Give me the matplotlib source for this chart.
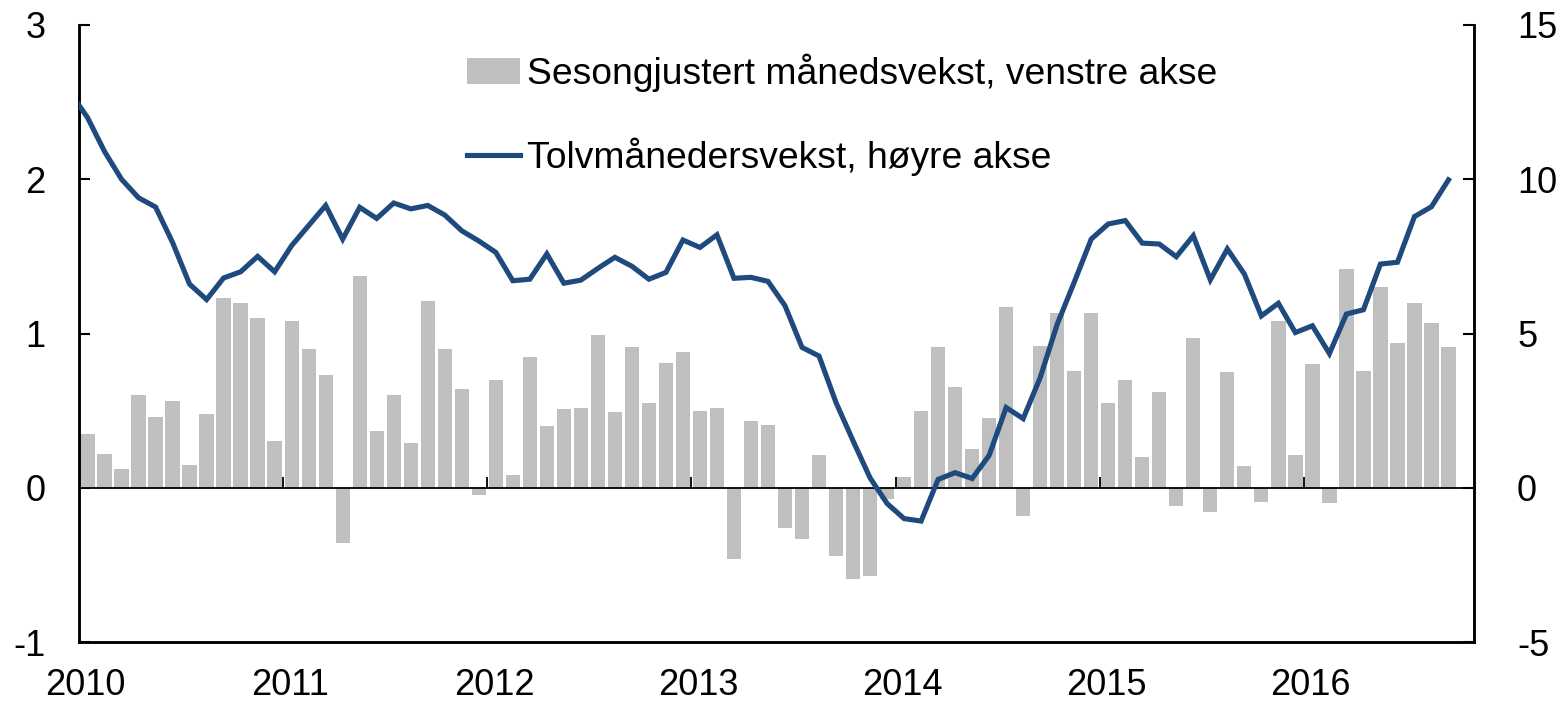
import numpy as np
import matplotlib
matplotlib.use("Agg")
import matplotlib.pyplot as plt

plt.rcParams['font.family'] = ['Liberation Sans', 'DejaVu Sans']
plt.rcParams['axes.unicode_minus'] = False

# Sesongjustert månedsvekst (venstre akse), jan 2010 - sep 2016
maanedsvekst = [
    0.35, 0.22, 0.12, 0.60, 0.46, 0.56, 0.15, 0.48, 1.23, 1.20, 1.10, 0.30,   # 2010
    1.08, 0.90, 0.73, -0.36, 1.37, 0.37, 0.60, 0.29, 1.21, 0.90, 0.64, -0.05,  # 2011
    0.70, 0.08, 0.85, 0.40, 0.51, 0.52, 0.99, 0.49, 0.91, 0.55, 0.81, 0.88,   # 2012
    0.50, 0.52, -0.46, 0.43, 0.41, -0.26, -0.33, 0.21, -0.44, -0.59, -0.57, -0.07,  # 2013
    0.07, 0.50, 0.91, 0.65, 0.25, 0.45, 1.17, -0.18, 0.92, 1.13, 0.76, 1.13,  # 2014
    0.55, 0.70, 0.20, 0.62, -0.12, 0.97, -0.16, 0.75, 0.14, -0.09, 1.08, 0.21,  # 2015
    0.80, -0.10, 1.42, 0.76, 1.30, 0.94, 1.20, 1.07, 0.91,                    # 2016
]

# Tolvmånedersvekst (høyre akse), des 2009 - sep 2016
tolvmnd = [
    12.8,                                                                      # des 2009
    12.0, 10.9, 10.0, 9.4, 9.1, 7.95, 6.6, 6.1, 6.8, 7.0, 7.5, 7.0,            # 2010
    7.85, 8.5, 9.15, 8.06, 9.09, 8.73, 9.23, 9.04, 9.15, 8.84, 8.33, 8.0,      # 2011
    7.63, 6.71, 6.76, 7.58, 6.63, 6.73, 7.11, 7.47, 7.18, 6.76, 6.98, 8.03,    # 2012
    7.79, 8.2, 6.79, 6.82, 6.69, 5.9, 4.55, 4.27, 2.76, 1.52, 0.32, -0.51,     # 2013
    -1.0, -1.08, 0.27, 0.49, 0.30, 1.05, 2.6, 2.24, 3.57, 5.3, 6.66, 8.06,     # 2014
    8.55, 8.66, 7.93, 7.9, 7.49, 8.17, 6.74, 7.74, 6.93, 5.57, 5.98, 5.03,     # 2015
    5.25, 4.35, 5.63, 5.77, 7.25, 7.31, 8.79, 9.11, 9.98,                      # 2016
]

aar = ['2010', '2011', '2012', '2013', '2014', '2015', '2016']

x_bar = np.arange(len(maanedsvekst)) + 0.5
x_linje = np.arange(len(tolvmnd)) - 0.5
aar_start = np.arange(len(aar)) * 12

fig = plt.figure(figsize=(15.59, 7.04), dpi=100)
ax = fig.add_axes([79 / 1559, 1 - 642 / 704, (1474 - 79) / 1559, (642 - 25) / 704])
ax2 = ax.twinx()

bars = ax.bar(x_bar, maanedsvekst, width=0.84, color='#BFBFBF', zorder=2)
ax.axhline(0, color='black', lw=1.3, zorder=3)
ax.vlines(aar_start[1:], 0, 0.07, color='black', lw=1.3, zorder=3)

linje, = ax2.plot(x_linje, tolvmnd, color='#1F4A7E', lw=3.7, zorder=4,
                  solid_joinstyle='miter')

ax.set_xlim(0, 82)
ax.set_ylim(-1, 3)
ax2.set_ylim(-5, 15)
ax.set_yticks([-1, 0, 1, 2, 3])
ax2.set_yticks([-5, 0, 5, 10, 15])

ax.set_xticks(aar_start + 0.4)
ax.set_xticklabels(aar)
ax.tick_params(axis='x', length=0, pad=19, labelsize=26)
ax.tick_params(axis='y', direction='in', length=8, width=1.5, pad=24, labelsize=26)
ax2.tick_params(axis='y', direction='in', length=8, width=1.5, pad=31, labelsize=26)

for a in (ax, ax2):
    a.spines['top'].set_visible(False)
    for s in ('left', 'right', 'bottom'):
        a.spines[s].set_linewidth(1.8)

ax.set_zorder(ax2.get_zorder() - 1)
ax.patch.set_visible(False)

fig.legend([bars, linje],
           ['Sesongjustert månedsvekst, venstre akse', 'Tolvmånedersvekst, høyre akse'],
           loc='upper left', bbox_to_anchor=(467 / 1559, 1 - 54 / 704),
           frameon=False, fontsize=26.8, borderpad=0, borderaxespad=0,
           handlelength=1.42, handletextpad=0.2, labelspacing=1.22)

fig.savefig('out.png', dpi=100)
